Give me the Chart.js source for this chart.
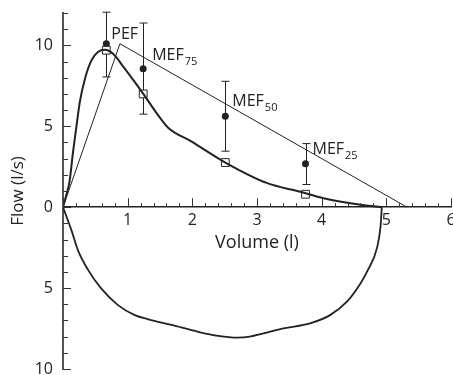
<!DOCTYPE html>
<html>
<head>
<meta charset="utf-8">
<script src="https://cdn.jsdelivr.net/npm/chart.js@4"></script>
<style>
    html, body { margin: 0; padding: 0; background: #fff; overflow: hidden; }
    #wrap { width: 468px; height: 390px; }
</style>
</head>
<body>
<div id="wrap"><canvas id="grafico" width="468" height="390"></canvas></div>
<script>
// ==========================================
// Curva fluxo-volume (expiração + inspiração)
// ==========================================

// curva medida - expiração
const expVolume = [0, 0.05, 0.1, 0.155, 0.21, 0.26, 0.34, 0.44, 0.54, 0.65, 0.77, 0.955, 1.25, 1.45, 1.63, 1.97, 2.51, 3.15, 3.67, 4.03, 4.55, 4.93];
const expFlow   = [0, 0.74, 1.56, 3.4, 5.06, 6.5, 7.94, 9.07, 9.59, 9.73, 9.49, 8.56, 6.96, 5.8, 4.9, 4.1, 2.76, 1.5, 0.95, 0.55, 0.18, 0];

// curva medida - inspiração (fluxo negativo)
const inspVolume = [0, 0.13, 0.23, 0.39, 0.59, 0.85, 1.11, 1.32, 1.68, 2.09, 2.4, 2.69, 2.89, 3.1, 3.41, 3.82, 4.13, 4.39, 4.6, 4.7, 4.86, 4.91, 4.93];
const inspFlow   = [0, -1.42, -2.65, -3.89, -5.02, -6.05, -6.67, -6.93, -7.28, -7.7, -7.95, -8.06, -8.0, -7.8, -7.49, -7.18, -6.67, -5.84, -4.71, -4.0, -2.45, -1.2, 0];

// curva prevista
const predVolume = [0, 0.88, 5.32];
const predFlow   = [0, 10.1, 0];

// índices PEF / MEF
const indexName   = ["PEF", "MEF", "MEF", "MEF"];
const indexSub    = ["", "75", "50", "25"];
const indexVolume = [0.67, 1.24, 2.51, 3.75];
const measured    = [9.7, 7.0, 2.76, 0.8];
const refMean     = [10.1, 8.56, 5.62, 2.69];
const refLow      = [8.05, 5.75, 3.46, 1.4];
const refHigh     = [12.05, 11.38, 7.78, 3.93];

// ticks
const xTickValues = [0, 1, 2, 3, 4, 5, 6];
const yTickValues = [-10, -5, 0, 5, 10];

const FONTE = "'Open Sans', 'DejaVu Sans', sans-serif";
const COR = "#222";

// deslocamento dos rótulos em px
const rotuloDx = [5, 9, 7, 7];
const rotuloDy = [-5, -9, -10, -10];

const pares = (xs, ys) => xs.map((v, i) => ({ x: v, y: ys[i] }));

const marcas = {
    id: "marcas",
    beforeDatasetsDraw(chart) {
        const { ctx, scales: { x, y } } = chart;
        ctx.save();
        ctx.strokeStyle = COR;
        ctx.lineWidth = 1;
        ctx.beginPath();
        indexVolume.forEach((v, i) => {
            const px = Math.round(x.getPixelForValue(v)) + 0.5;
            const top = y.getPixelForValue(refHigh[i]);
            const bot = y.getPixelForValue(refLow[i]);
            ctx.moveTo(px, top); ctx.lineTo(px, bot);
            ctx.moveTo(px - 4, top); ctx.lineTo(px + 4, top);
            ctx.moveTo(px - 4, bot); ctx.lineTo(px + 4, bot);
        });
        ctx.stroke();
        ctx.restore();
    },
    afterDraw(chart) {
        const { ctx, scales: { x, y } } = chart;
        const x0 = x.getPixelForValue(0);
        const y0 = y.getPixelForValue(0);
        ctx.save();
        ctx.strokeStyle = "#333";
        ctx.lineWidth = 1;
        ctx.beginPath();
        for (let k = 0; k <= 30; k++) {
            const px = Math.round(x.getPixelForValue(k / 5)) + 0.5;
            const len = k % 5 === 0 ? 9 : 4;
            ctx.moveTo(px, y0); ctx.lineTo(px, y0 - len);
        }
        for (let v = -10; v <= 12; v++) {
            const py = Math.round(y.getPixelForValue(v)) + 0.5;
            const len = v % 5 === 0 ? 8 : 5;
            ctx.moveTo(x0, py); ctx.lineTo(x0 + len, py);
        }
        ctx.stroke();

        ctx.fillStyle = COR;
        ctx.textBaseline = "alphabetic";
        ctx.textAlign = "left";
        indexName.forEach((nome, i) => {
            const px = x.getPixelForValue(indexVolume[i]) + rotuloDx[i];
            const py = y.getPixelForValue(refMean[i]) + rotuloDy[i];
            ctx.font = "16px " + FONTE;
            ctx.fillText(nome, px, py);
            if (indexSub[i]) {
                const w = ctx.measureText(nome).width;
                ctx.font = "11px " + FONTE;
                ctx.fillText(indexSub[i], px + w + 1, py + 5);
            }
        });
        ctx.restore();
    }
};

Chart.defaults.font.family = FONTE;
Chart.defaults.color = COR;

new Chart(document.getElementById("grafico"), {
    type: "scatter",
    data: {
        datasets: [
            { data: pares(expVolume, expFlow), showLine: true, borderColor: COR, borderWidth: 2,
              pointRadius: 0, cubicInterpolationMode: "monotone" },
            { data: pares(inspVolume, inspFlow), showLine: true, borderColor: COR, borderWidth: 1.8,
              pointRadius: 0, cubicInterpolationMode: "monotone" },
            { data: pares(predVolume, predFlow), showLine: true, borderColor: COR, borderWidth: 1,
              pointRadius: 0, tension: 0 },
            { data: pares(indexVolume, measured), showLine: false, pointStyle: "rect", pointRadius: 5.5,
              pointBackgroundColor: "#fff", pointBorderColor: COR, pointBorderWidth: 1 },
            { data: pares(indexVolume, refMean), showLine: false, pointStyle: "circle", pointRadius: 3.5,
              pointBackgroundColor: COR, pointBorderColor: COR, pointBorderWidth: 0 }
        ]
    },
    options: {
        responsive: false,
        animation: false,
        devicePixelRatio: 1,
        layout: { padding: { top: 13, right: 17, bottom: 21, left: 0 } },
        plugins: { legend: { display: false }, tooltip: { enabled: false } },
        scales: {
            x: {
                type: "linear", min: 0, max: 6, position: { y: 0 },
                afterBuildTicks: s => { s.ticks = xTickValues.map(v => ({ value: v })); },
                afterFit: s => { s.paddingLeft = 0; s.paddingRight = 0; },
                ticks: { callback: v => v === 0 ? "" : v, padding: 4, font: { size: 16 },
                         maxRotation: 0, autoSkip: false },
                grid: { display: false, drawTicks: false },
                border: { display: true, color: COR, width: 1.5 },
                title: { display: true, text: "Volume (l)", font: { size: 18 }, padding: { top: -2, bottom: 0 } }
            },
            y: {
                type: "linear", min: -10, max: 12,
                afterBuildTicks: s => { s.ticks = yTickValues.map(v => ({ value: v })); },
                afterFit: s => { s.width = 63; s.paddingTop = 0; s.paddingBottom = 0; },
                ticks: { callback: v => Math.abs(v), padding: 10, font: { size: 16 } },
                grid: { display: false, drawTicks: false },
                border: { display: true, color: "#555", width: 2 },
                title: { display: true, text: "Flow (l/s)", font: { size: 17 }, padding: { top: 8, bottom: 0 } }
            }
        }
    },
    plugins: [marcas]
});
</script>
</body>
</html>
